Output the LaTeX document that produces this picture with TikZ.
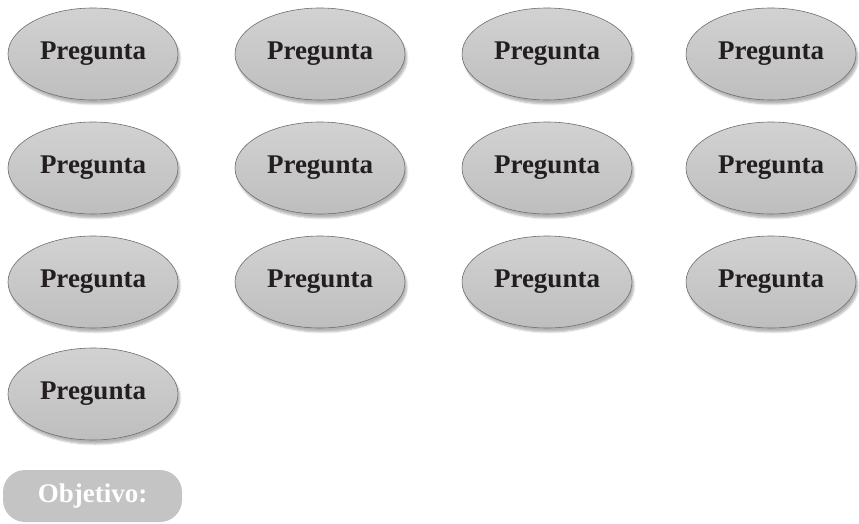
\documentclass[tikz,border=0pt]{standalone}
\usepackage{fontspec}
\setmainfont{Liberation Serif}
\usepackage{xcolor}
\usepackage{tikz}
\usetikzlibrary{shapes.geometric,shadows.blur}
\definecolor{cfill}{HTML}{BEBEBE}
\definecolor{cfilltop}{HTML}{D2D2D2}
\definecolor{cedge}{HTML}{6E6E6E}
\definecolor{ctext}{HTML}{231F20}
\definecolor{cobj}{HTML}{C4C4C4}
\tikzset{
  pregunta/.style={ellipse,draw=cedge,line width=0.6pt,
    top color=cfilltop,bottom color=cfill,
    minimum width=170pt,minimum height=92pt,inner sep=0pt,
    text=ctext,font=\fontsize{27}{32}\selectfont\bfseries,
    blur shadow={shadow xshift=2pt,shadow yshift=-4pt,shadow blur steps=6,shadow opacity=30}},
  objbox/.style={rounded corners=22pt,fill=cobj,
    minimum width=179pt,minimum height=52pt,inner sep=0pt,
    text=white,font=\fontsize{27}{32}\selectfont\bfseries}
}

\begin{document}
\begin{tikzpicture}[x=1pt,y=-1pt]
  \useasboundingbox (0,0) rectangle (859,524);
  % grid of questions
  \foreach \r/\y in {1/54,2/168,3/282} {
    \foreach \c/\x in {1/93,2/320,3/547,4/771} {
      \node[pregunta] (q-\r-\c) at (\x,\y) {Pregunta};
    }
  }
  \node[pregunta] (q-4-1) at (93,394) {Pregunta};
  % objective
  \node[objbox] (obj) at (92.5,496) {Objetivo:};
\end{tikzpicture}
\end{document}
